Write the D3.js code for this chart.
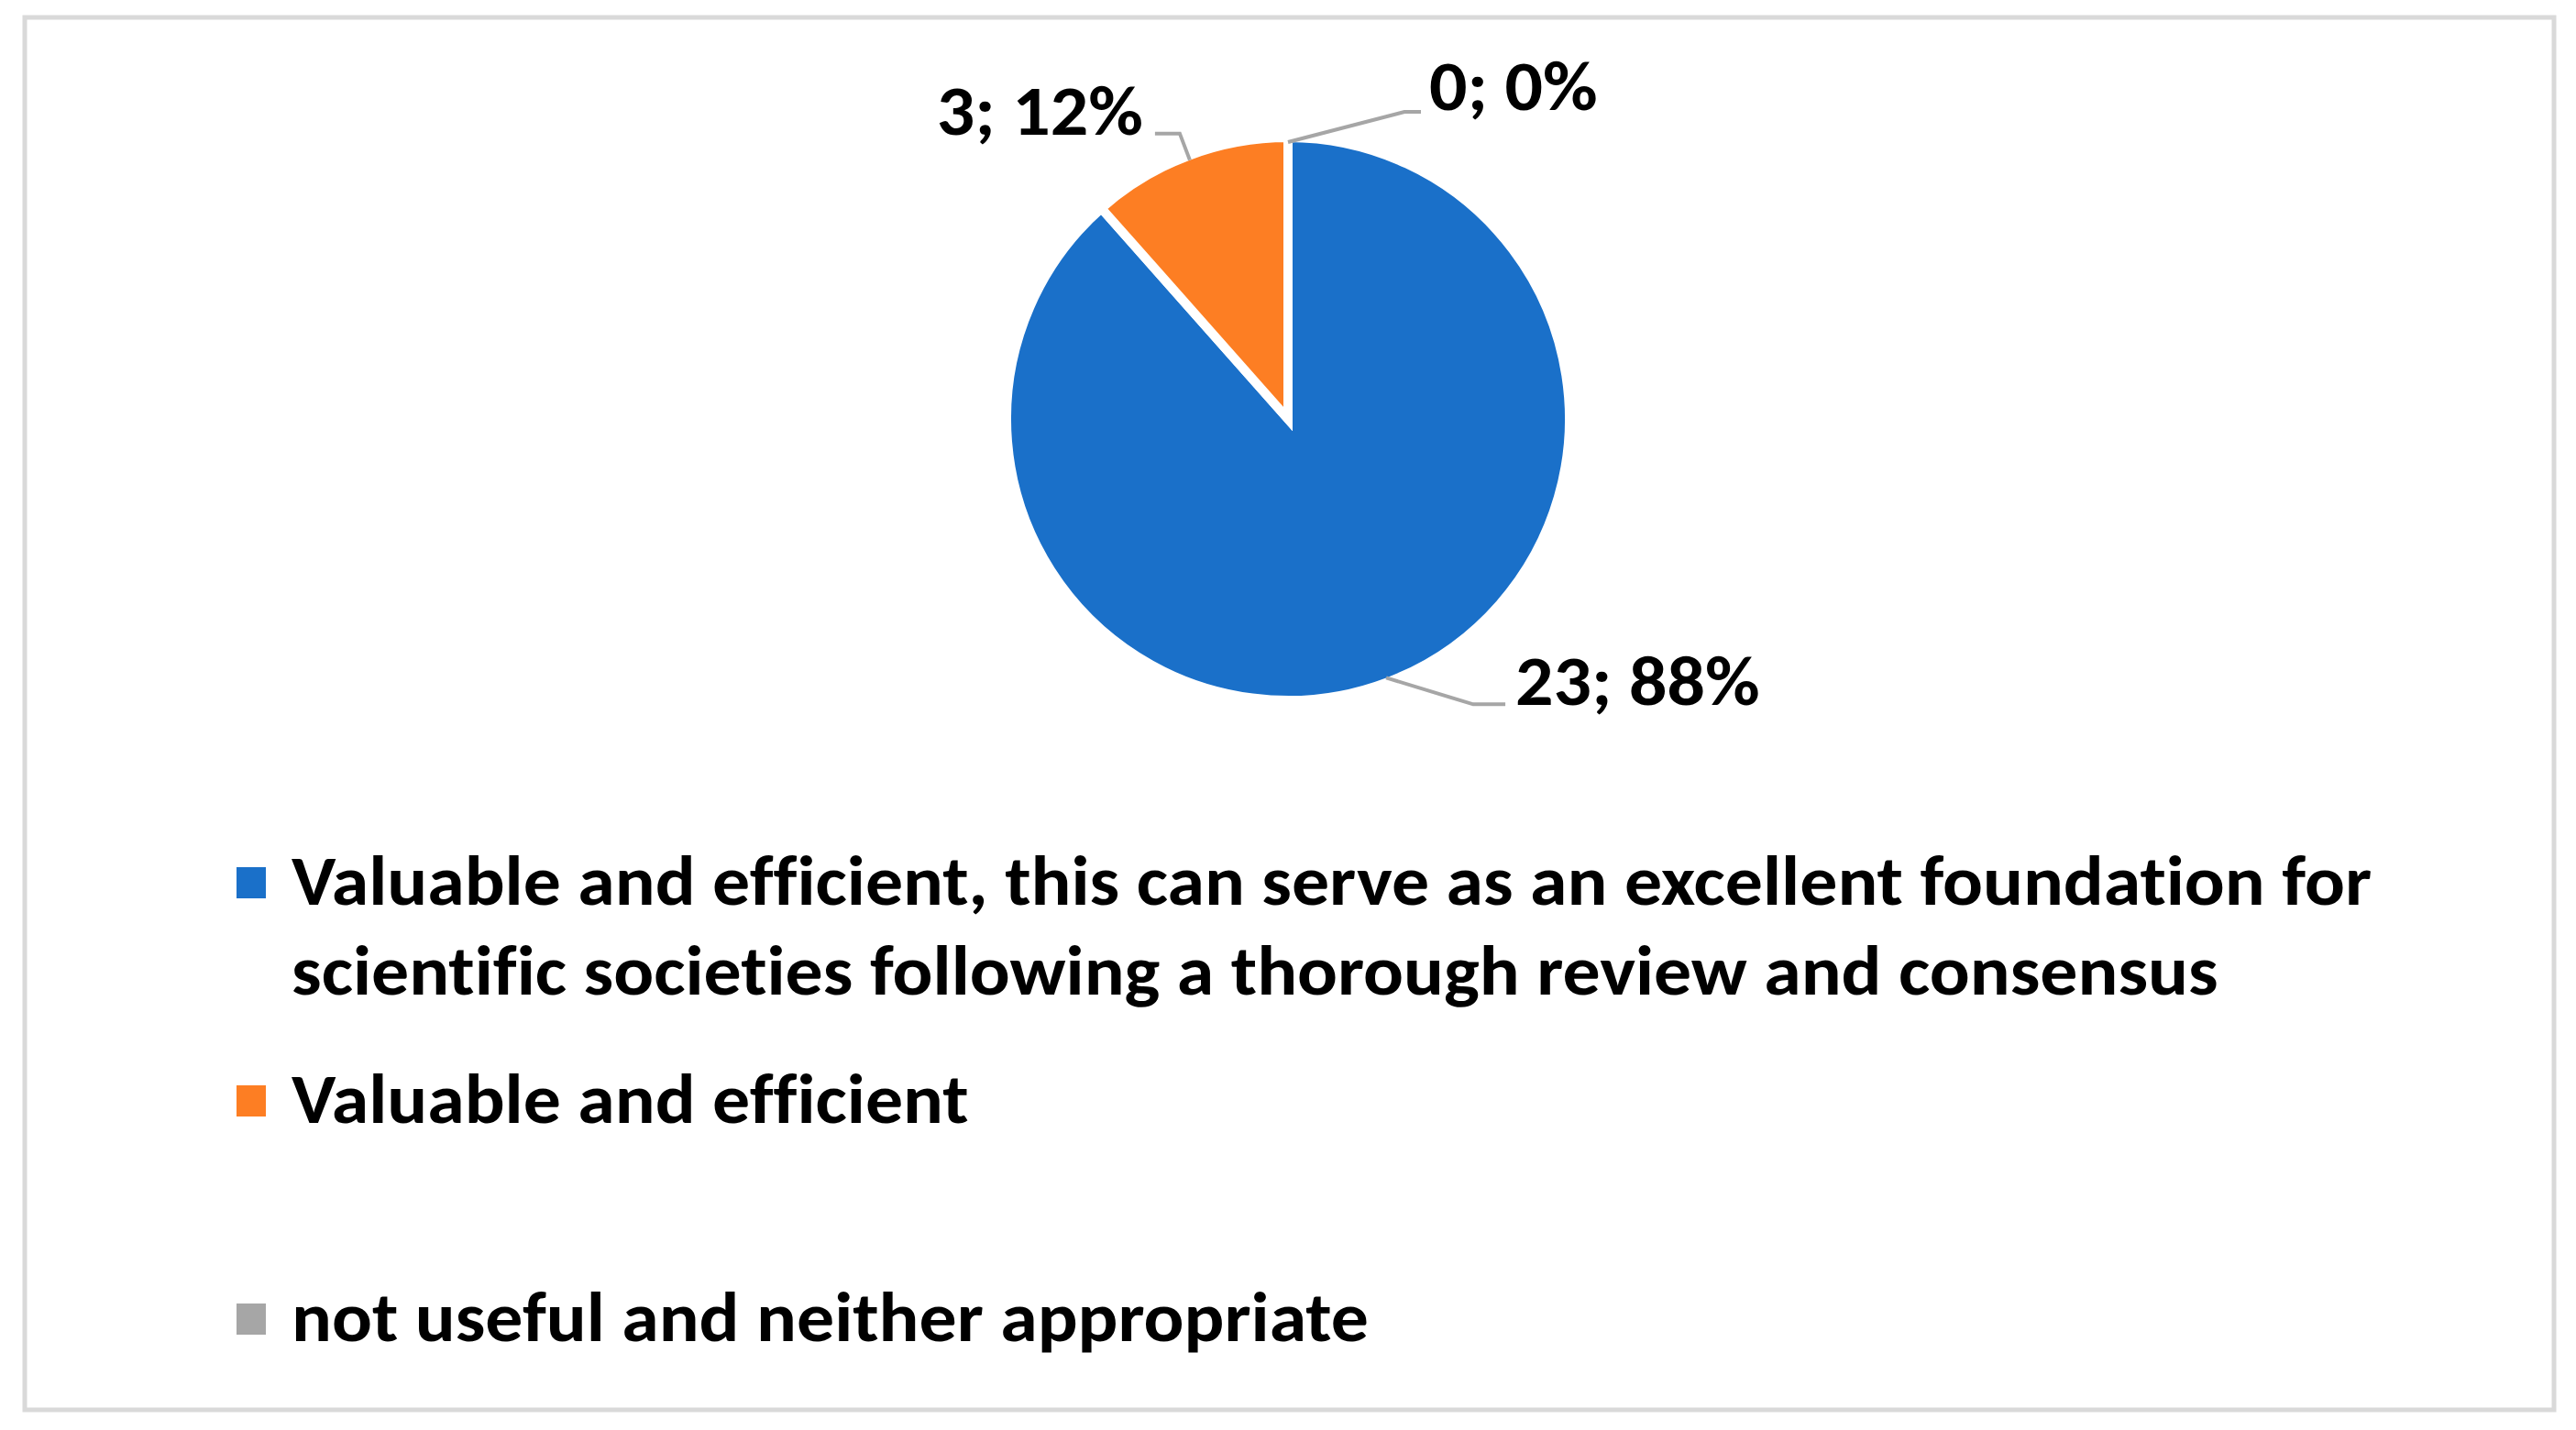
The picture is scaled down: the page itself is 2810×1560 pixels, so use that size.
<!DOCTYPE html>
<html>
<head>
<meta charset="utf-8">
<script src="https://cdn.jsdelivr.net/npm/d3@7"></script>
<style>
  html, body { margin: 0; padding: 0; background: #ffffff; }
  svg { display: block; }
  text { font-variant-ligatures: none; font-feature-settings: "liga" 0, "clig" 0; }
</style>
</head>
<body>
<svg id="chart" width="2810" height="1560"></svg>
<script>
// ---- data ----
const categories = [
  "Valuable and efficient, this can serve as an excellent foundation for scientific societies following a thorough review and consensus",
  "Valuable and efficient",
  "not useful and neither appropriate"
];
const counts = [23, 3, 0];
const percents = [88, 12, 0];
const colors = ["#1a70c9", "#fd7e23", "#a6a6a6"];

// ---- layout ----
const W = 2810, H = 1560;
const cx = 1405, cy = 457;
const rVis = 302, strokeW = 10;
const fontFamily = "'Carlito', 'Calibri', 'Open Sans', sans-serif";
const fontSize = 76;

// leader/label offsets relative to slice edge point (layout only)
const labelLayout = [
  { elbow: [95, 29], end: [130, 29], text: [141, 30], anchor: "start" },
  { elbow: [-11, -29], end: [-38, -29], text: [-51, -28], anchor: "end" },
  { elbow: [127, -33], end: [145, -33], text: [154, -35], anchor: "start" }
];

const svg = d3.select("#chart");
svg.append("rect").attr("x", 0).attr("y", 0).attr("width", W).attr("height", H).attr("fill", "#fff");
svg.append("rect")
  .attr("x", 27).attr("y", 19).attr("width", 2759).attr("height", 1519)
  .attr("fill", "#fff").attr("stroke", "#d9d9d9").attr("stroke-width", 5);

const data = categories.map((c, i) => ({ cat: c, count: counts[i], pct: percents[i], color: colors[i], i }));

const pie = d3.pie().value(d => d.count).sort(null).startAngle(0).endAngle(2 * Math.PI);
const arcs = pie(data);
const arc = d3.arc().innerRadius(0).outerRadius(rVis + strokeW / 2);

const g = svg.append("g").attr("transform", `translate(${cx},${cy})`);
g.selectAll("path.slice")
  .data(arcs)
  .join("path")
  .attr("class", "slice")
  .attr("d", arc)
  .attr("fill", d => d.data.color)
  .attr("stroke", "#fff")
  .attr("stroke-width", strokeW)
  .attr("stroke-linejoin", "miter");

// measurement helper for a horizontal scale matching the reference font's width
const measure = svg.append("text")
  .attr("font-family", fontFamily).attr("font-weight", "bold").attr("font-size", fontSize)
  .attr("x", -9999).attr("y", -9999);
function natWidth(s) { measure.text(s); return measure.node().getComputedTextLength(); }

// legend wrapping
function wrap(s, maxChars) {
  const words = s.split(" ");
  const lines = [];
  let cur = "";
  words.forEach(w => {
    const t = cur ? cur + " " + w : w;
    if (t.length > maxChars && cur) { lines.push(cur); cur = w; } else cur = t;
  });
  if (cur) lines.push(cur);
  return lines;
}
const legendLines = data.map(d => wrap(d.cat, 70));
const refFirstLineWidth = 2269;
const k = refFirstLineWidth / natWidth(legendLines[0][0]);

function addText(sel, s) {
  const w = natWidth(s) * k;
  sel.text(s).attr("textLength", w).attr("lengthAdjust", "spacingAndGlyphs");
}

// labels with leader lines
arcs.forEach((a, i) => {
  const mid = (a.startAngle + a.endAngle) / 2;
  const ex = cx + rVis * Math.sin(mid);
  const ey = cy - rVis * Math.cos(mid);
  const L = labelLayout[i];
  svg.append("polyline")
    .attr("points", [[ex, ey], [ex + L.elbow[0], ey + L.elbow[1]], [ex + L.end[0], ey + L.end[1]]].map(p => p.join(",")).join(" "))
    .attr("fill", "none").attr("stroke", "#a6a6a6").attr("stroke-width", 4);
  const t = svg.append("text")
    .attr("x", ex + L.text[0]).attr("y", ey + L.text[1])
    .attr("text-anchor", L.anchor)
    .attr("font-family", fontFamily).attr("font-weight", "bold").attr("font-size", fontSize)
    .attr("fill", "#000");
  addText(t, `${a.data.count}; ${a.data.pct}%`);
});

// legend
const legendX = 318, legendY0 = 987, entryStep = 238, lineStep = 98;
const lg = svg.append("g");
data.forEach((d, i) => {
  const by = legendY0 + entryStep * i;
  lg.append("rect")
    .attr("x", 258).attr("y", by - 41).attr("width", 32).attr("height", 34)
    .attr("fill", d.color);
  legendLines[i].forEach((line, j) => {
    const t = lg.append("text")
      .attr("x", legendX).attr("y", by + lineStep * j)
      .attr("font-family", fontFamily).attr("font-weight", "bold").attr("font-size", fontSize)
      .attr("fill", "#000");
    addText(t, line);
  });
});
measure.remove();
</script>
</body>
</html>
